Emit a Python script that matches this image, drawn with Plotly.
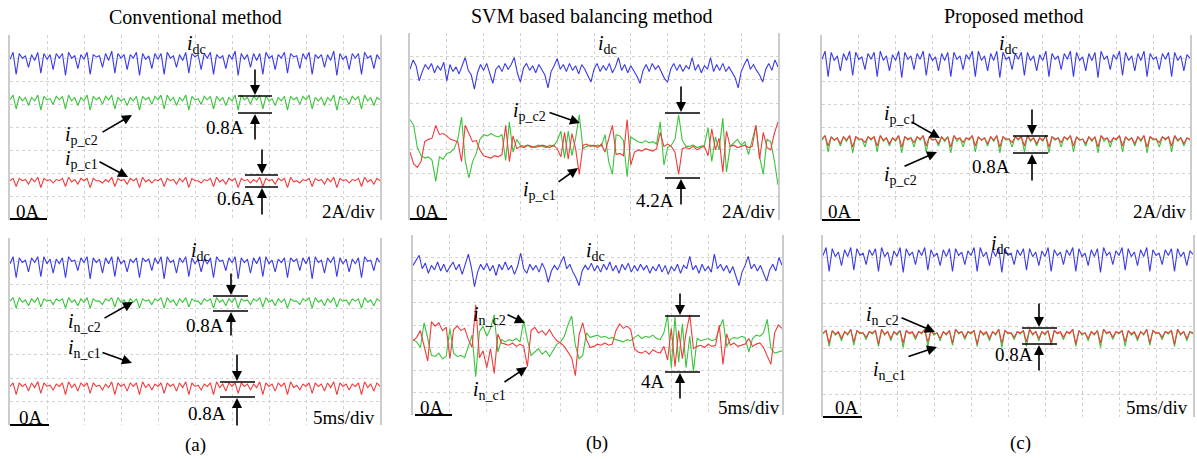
import numpy as np
import plotly.graph_objects as go

W, H = 1197, 459

# ---------------- data (A), time axis 0..50 ms (5 ms/div), 0..16 A (2 A/div) ----------------
t_ripple = np.linspace(0, 50, 121)
t_svm = np.linspace(0, 50, 101)

idc_a_top = [
 13.9, 14.5, 12.6, 14.4, 14.0, 14.2, 13.2, 14.3,
 13.8, 14.5, 12.7, 14.4, 13.9, 14.3, 13.0, 14.4,
 14.0, 14.4, 12.5, 14.5, 14.0, 14.2, 13.1, 14.3,
 13.9, 14.5, 12.6, 14.3, 14.1, 14.2, 13.2, 14.4,
 13.8, 14.6, 12.7, 14.4, 14.0, 14.3, 13.0, 14.3,
 14.0, 14.5, 12.5, 14.4, 13.9, 14.2, 13.1, 14.4,
 13.9, 14.4, 12.6, 14.5, 14.0, 14.2, 13.2, 14.3,
 13.8, 14.5, 12.7, 14.4, 14.1, 14.3, 13.0, 14.4,
 14.0, 14.5, 12.6, 14.3, 14.0, 14.2, 13.1, 14.3,
 13.9, 14.6, 12.5, 14.4, 13.9, 14.3, 13.2, 14.4,
 13.8, 14.4, 12.6, 14.5, 14.0, 14.2, 13.0, 14.3,
 14.0, 14.5, 12.7, 14.4, 14.1, 14.2, 13.1, 14.4,
 13.9, 14.5, 12.6, 14.3, 14.0, 14.3, 13.2, 14.3,
 13.8, 14.6, 12.5, 14.4, 13.9, 14.2, 13.0, 14.4,
 14.0, 14.4, 12.6, 14.5, 14.0, 14.2, 13.1, 14.3,
 13.9]
ipc2_a = [
 10.4, 10.8, 9.6, 10.7, 10.3, 10.6, 9.9, 10.6,
 10.3, 10.8, 9.5, 10.7, 10.4, 10.5, 10.0, 10.7,
 10.4, 10.7, 9.6, 10.8, 10.3, 10.6, 9.9, 10.6,
 10.3, 10.8, 9.5, 10.7, 10.4, 10.6, 10.0, 10.7,
 10.4, 10.8, 9.6, 10.6, 10.3, 10.5, 9.9, 10.6,
 10.3, 10.7, 9.5, 10.7, 10.4, 10.6, 10.0, 10.7,
 10.4, 10.8, 9.6, 10.8, 10.3, 10.6, 9.9, 10.6,
 10.3, 10.8, 9.5, 10.7, 10.4, 10.5, 10.0, 10.7,
 10.4, 10.7, 9.6, 10.7, 10.3, 10.6, 9.9, 10.6,
 10.3, 10.8, 9.5, 10.8, 10.4, 10.6, 10.0, 10.7,
 10.4, 10.8, 9.6, 10.7, 10.3, 10.5, 9.9, 10.6,
 10.3, 10.7, 9.5, 10.7, 10.4, 10.6, 10.0, 10.7,
 10.4, 10.8, 9.6, 10.6, 10.3, 10.6, 9.9, 10.6,
 10.3, 10.8, 9.5, 10.7, 10.4, 10.5, 10.0, 10.7,
 10.4, 10.7, 9.6, 10.8, 10.3, 10.6, 9.9, 10.6,
 10.4]
ipc1_a = [
 3.4, 3.6, 2.9, 3.6, 3.4, 3.5, 3.1, 3.6,
 3.3, 3.7, 2.8, 3.6, 3.4, 3.5, 3.2, 3.5,
 3.4, 3.6, 2.9, 3.7, 3.3, 3.5, 3.1, 3.6,
 3.4, 3.6, 2.8, 3.6, 3.4, 3.4, 3.2, 3.5,
 3.3, 3.7, 2.9, 3.6, 3.4, 3.5, 3.1, 3.6,
 3.4, 3.6, 2.8, 3.7, 3.3, 3.5, 3.2, 3.5,
 3.4, 3.6, 2.9, 3.6, 3.4, 3.5, 3.1, 3.6,
 3.3, 3.7, 2.8, 3.6, 3.4, 3.4, 3.2, 3.5,
 3.4, 3.6, 2.9, 3.7, 3.3, 3.5, 3.1, 3.6,
 3.4, 3.6, 2.8, 3.6, 3.4, 3.5, 3.2, 3.5,
 3.3, 3.7, 2.9, 3.6, 3.4, 3.5, 3.1, 3.6,
 3.4, 3.6, 2.8, 3.7, 3.3, 3.4, 3.2, 3.5,
 3.4, 3.6, 2.9, 3.6, 3.4, 3.5, 3.1, 3.6,
 3.3, 3.7, 2.8, 3.6, 3.4, 3.5, 3.2, 3.5,
 3.4, 3.6, 2.9, 3.7, 3.3, 3.5, 3.1, 3.6,
 3.4]
idc_a_bot = [
 13.8, 14.4, 12.6, 14.3, 13.9, 14.1, 13.1, 14.3,
 13.9, 14.4, 12.7, 14.4, 13.8, 14.2, 13.0, 14.2,
 13.8, 14.3, 12.6, 14.4, 14.0, 14.1, 13.2, 14.3,
 13.9, 14.4, 12.5, 14.3, 13.9, 14.2, 13.0, 14.3,
 13.8, 14.4, 12.7, 14.4, 13.8, 14.1, 13.1, 14.2,
 13.9, 14.3, 12.6, 14.3, 14.0, 14.2, 13.2, 14.3,
 13.8, 14.4, 12.5, 14.4, 13.9, 14.1, 13.0, 14.3,
 13.9, 14.4, 12.7, 14.3, 13.8, 14.2, 13.1, 14.2,
 13.8, 14.3, 12.6, 14.4, 14.0, 14.1, 13.2, 14.3,
 13.9, 14.4, 12.5, 14.3, 13.9, 14.2, 13.0, 14.3,
 13.8, 14.4, 12.7, 14.4, 13.8, 14.1, 13.1, 14.2,
 13.9, 14.3, 12.6, 14.3, 14.0, 14.2, 13.2, 14.3,
 13.8, 14.4, 12.5, 14.4, 13.9, 14.1, 13.0, 14.3,
 13.9, 14.4, 12.7, 14.3, 13.8, 14.2, 13.1, 14.2,
 13.8, 14.3, 12.6, 14.4, 14.0, 14.1, 13.2, 14.3,
 13.9]
inc2_a = [
 10.6, 10.9, 10.0, 10.9, 10.5, 10.7, 10.2, 10.8,
 10.5, 10.9, 10.1, 10.8, 10.6, 10.7, 10.3, 10.8,
 10.6, 10.8, 10.0, 10.9, 10.5, 10.7, 10.2, 10.8,
 10.5, 10.9, 10.0, 10.8, 10.6, 10.6, 10.3, 10.8,
 10.6, 10.9, 10.1, 10.9, 10.5, 10.7, 10.2, 10.8,
 10.5, 10.8, 10.0, 10.8, 10.6, 10.7, 10.3, 10.8,
 10.6, 10.9, 10.0, 10.9, 10.5, 10.7, 10.2, 10.8,
 10.5, 10.9, 10.1, 10.8, 10.6, 10.6, 10.3, 10.8,
 10.6, 10.8, 10.0, 10.9, 10.5, 10.7, 10.2, 10.8,
 10.5, 10.9, 10.0, 10.8, 10.6, 10.7, 10.3, 10.8,
 10.6, 10.9, 10.1, 10.9, 10.5, 10.7, 10.2, 10.8,
 10.5, 10.8, 10.0, 10.8, 10.6, 10.6, 10.3, 10.8,
 10.6, 10.9, 10.0, 10.9, 10.5, 10.7, 10.2, 10.8,
 10.5, 10.9, 10.1, 10.8, 10.6, 10.7, 10.3, 10.8,
 10.6, 10.8, 10.0, 10.9, 10.5, 10.7, 10.2, 10.8,
 10.6]
inc1_a = [
 3.3, 3.6, 2.6, 3.6, 3.3, 3.5, 2.9, 3.6,
 3.2, 3.7, 2.7, 3.6, 3.3, 3.4, 3.0, 3.5,
 3.3, 3.6, 2.6, 3.7, 3.2, 3.5, 2.9, 3.6,
 3.3, 3.6, 2.7, 3.6, 3.3, 3.4, 3.0, 3.5,
 3.2, 3.7, 2.6, 3.6, 3.3, 3.5, 2.9, 3.6,
 3.3, 3.6, 2.6, 3.7, 3.2, 3.5, 3.0, 3.5,
 3.3, 3.6, 2.7, 3.6, 3.3, 3.5, 2.9, 3.6,
 3.2, 3.7, 2.6, 3.6, 3.3, 3.4, 3.0, 3.5,
 3.3, 3.6, 2.6, 3.7, 3.2, 3.5, 2.9, 3.6,
 3.3, 3.6, 2.7, 3.6, 3.3, 3.5, 3.0, 3.5,
 3.2, 3.7, 2.6, 3.6, 3.3, 3.5, 2.9, 3.6,
 3.3, 3.6, 2.6, 3.7, 3.2, 3.4, 3.0, 3.5,
 3.3, 3.6, 2.7, 3.6, 3.3, 3.5, 2.9, 3.6,
 3.2, 3.7, 2.6, 3.6, 3.3, 3.5, 3.0, 3.5,
 3.3, 3.6, 2.6, 3.7, 3.2, 3.5, 2.9, 3.6,
 3.3]

idc_b_top = [
 12.9, 13.7, 13.2, 11.9, 12.7, 13.3, 12.9, 13.4, 12.6, 13.2,
 12.8, 13.5, 11.9, 13.3, 12.7, 13.1, 12.5, 13.2, 13.9, 12.8,
 12.4, 11.2, 12.6, 13.3, 12.8, 13.4, 12.5, 11.7, 12.9, 13.2,
 12.7, 13.4, 12.9, 13.3, 13.9, 12.6, 11.8, 13.0, 13.4, 12.8,
 13.2, 12.6, 13.3, 12.9, 12.4, 11.3, 12.7, 13.2, 13.8, 12.9,
 13.3, 12.7, 13.4, 12.8, 13.2, 12.5, 13.3, 12.9, 12.4, 11.8,
 12.9, 13.4, 12.7, 13.2, 12.8, 13.4, 12.6, 13.1, 13.9, 12.8,
 13.3, 12.6, 13.2, 12.8, 12.3, 11.7, 12.8, 13.3, 12.7, 13.4,
 12.9, 13.2, 12.6, 12.1, 11.8, 12.9, 13.4, 12.8, 13.3, 12.7,
 13.2, 12.9, 13.9, 12.8, 13.3, 12.6, 13.2, 12.9, 13.9, 12.7,
 13.3, 12.8, 13.4, 12.7, 13.1, 12.6, 12.2, 11.3, 12.7, 13.3,
 13.8, 12.9, 13.3, 12.8, 12.4, 11.8, 12.9, 13.4, 12.8, 13.7,
 13.1]
ipc2_b = [
 8.6, 8.1, 6.2, 5.5, 5.3, 5.4, 5.1, 3.3, 5.4, 5.2,
 5.7, 5.8, 6.1, 6.9, 8.8, 5.1, 3.6, 5.0, 5.7, 6.9,
 7.3, 7.2, 7.4, 7.2, 7.1, 7.3, 5.1, 8.4, 5.8, 6.9,
 6.4, 6.3, 6.4, 6.2, 6.3, 6.4, 6.3, 6.2, 6.4, 6.3,
 6.8, 7.6, 5.3, 7.6, 5.5, 7.0, 9.0, 6.1, 6.3, 6.4,
 6.3, 6.4, 6.3, 7.3, 5.0, 3.9, 7.3, 7.2, 6.8, 3.7,
 7.1, 6.9, 6.7, 6.6, 6.8, 6.6, 6.7, 6.5, 8.4, 4.7,
 6.2, 6.4, 6.9, 9.0, 6.8, 6.3, 6.3, 6.4, 6.2, 6.3,
 6.4, 7.9, 5.0, 7.1, 6.0, 8.7, 4.1, 6.3, 6.6, 6.9,
 6.4, 6.7, 5.6, 6.8, 8.1, 5.4, 3.9, 6.9, 6.7, 5.1,
 3.0]
ipc1_b = [
 5.8, 4.8, 4.5, 5.0, 6.7, 6.9, 7.0, 8.1, 7.3, 7.4,
 7.2, 6.9, 6.8, 6.7, 5.0, 8.1, 7.4, 6.7, 6.8, 6.0,
 5.5, 5.4, 5.3, 5.5, 5.4, 5.6, 8.1, 5.0, 7.2, 6.1,
 6.3, 6.2, 6.4, 6.3, 6.2, 6.3, 6.4, 6.3, 6.2, 6.4,
 6.1, 5.4, 7.5, 5.2, 7.4, 6.1, 3.9, 6.4, 6.5, 6.3,
 6.4, 6.2, 6.5, 5.8, 7.0, 8.1, 5.6, 5.7, 5.5, 8.6,
 4.7, 5.8, 6.0, 5.9, 6.1, 6.0, 5.9, 6.1, 7.5, 6.3,
 6.5, 6.3, 5.8, 3.9, 6.1, 6.2, 6.1, 6.3, 6.0, 6.2,
 6.3, 5.5, 7.8, 6.0, 7.0, 4.1, 7.6, 6.3, 6.4, 6.2,
 6.3, 6.4, 6.2, 6.3, 8.1, 5.2, 7.5, 6.2, 6.0, 7.4,
 8.4]
idc_b_bot = [
 13.3, 13.8, 14.2, 13.0, 13.5, 12.6, 13.3, 12.9, 13.6, 12.8,
 13.4, 12.7, 13.2, 13.6, 12.9, 13.4, 12.5, 13.3, 14.3, 13.1,
 11.4, 12.7, 13.4, 12.9, 13.5, 12.8, 13.3, 12.4, 13.4, 12.9,
 13.6, 12.9, 13.3, 12.5, 13.2, 14.4, 13.0, 12.6, 13.4, 12.9,
 13.3, 12.7, 13.5, 12.9, 11.8, 12.8, 13.3, 12.9, 13.5, 14.1,
 13.0, 13.4, 12.7, 12.2, 11.5, 12.8, 13.3, 12.9, 13.5, 12.8,
 13.3, 12.7, 13.4, 12.9, 13.6, 12.8, 13.3, 12.6, 13.4, 12.9,
 13.5, 12.7, 13.3, 12.8, 13.4, 12.9, 13.3, 12.6, 13.2, 12.8,
 13.4, 12.7, 13.3, 12.5, 13.2, 12.8, 13.4, 12.6, 13.3, 13.0,
 14.1, 12.9, 13.3, 12.6, 13.4, 12.8, 13.2, 12.7, 14.3, 13.0,
 13.4, 12.8, 13.3, 12.6, 13.2, 12.4, 11.5, 12.7, 13.3, 14.1,
 13.0, 13.4, 12.8, 13.3, 12.5, 11.9, 12.9, 13.4, 12.8, 14.0,
 13.3]
inc2_b = [
 6.7, 6.5, 6.0, 8.2, 6.8, 5.3, 5.2, 5.5, 5.0, 5.2,
 7.7, 5.5, 5.2, 5.3, 5.1, 6.1, 7.1, 3.4, 7.4, 7.9,
 7.0, 7.7, 8.9, 5.6, 6.7, 6.5, 6.7, 6.6, 6.8, 6.5,
 8.4, 6.7, 5.3, 5.6, 5.9, 5.4, 5.7, 5.2, 5.8, 6.3,
 6.5, 7.0, 8.0, 8.8, 6.2, 5.0, 5.3, 7.3, 6.9, 7.0,
 7.1, 6.9, 7.0, 6.8, 6.9, 6.7, 6.6, 6.5, 6.7, 6.6,
 6.9, 7.1, 6.8, 7.0, 6.9, 7.1, 6.8, 6.7, 7.3, 8.9,
 4.2, 8.7, 4.7, 8.1, 4.2, 7.0, 3.9, 6.8, 6.6, 6.7,
 6.8, 6.6, 6.7, 7.7, 8.5, 6.1, 6.7, 6.9, 6.8, 7.0,
 6.9, 5.6, 6.8, 7.1, 7.0, 7.3, 8.5, 5.9, 5.5, 5.6,
 5.7]
inc1_b = [
 6.6, 6.9, 7.5, 6.1, 4.8, 8.3, 7.9, 8.2, 7.5, 7.8,
 5.0, 7.6, 7.9, 7.5, 7.7, 6.7, 6.0, 9.8, 5.1, 5.7,
 4.2, 5.9, 3.7, 7.2, 6.4, 6.3, 6.2, 6.4, 6.1, 6.3,
 6.1, 4.3, 7.5, 7.8, 7.3, 7.5, 7.1, 7.6, 7.0, 6.6,
 6.4, 6.1, 5.6, 5.1, 3.5, 7.1, 8.2, 6.7, 6.0, 6.1,
 6.3, 6.2, 6.4, 6.2, 6.3, 7.5, 8.1, 7.7, 7.9, 7.6,
 5.9, 5.6, 5.5, 5.7, 5.4, 5.8, 5.6, 5.5, 6.1, 4.9,
 7.7, 4.3, 7.5, 5.0, 7.3, 8.9, 5.9, 6.1, 6.2, 6.0,
 6.3, 6.1, 6.2, 8.0, 4.5, 7.2, 6.2, 6.4, 6.1, 6.2,
 6.3, 6.8, 6.1, 6.3, 6.4, 6.0, 5.3, 4.5, 7.3, 8.0,
 7.7]

idc_c_top = [
 13.9, 14.6, 12.4, 14.5, 13.8, 14.2, 12.9, 14.4,
 13.8, 14.6, 12.5, 14.5, 13.9, 14.1, 13.0, 14.4,
 13.9, 14.5, 12.4, 14.6, 13.8, 14.2, 12.9, 14.3,
 13.8, 14.6, 12.3, 14.5, 13.9, 14.2, 13.0, 14.4,
 13.9, 14.6, 12.5, 14.4, 13.8, 14.1, 12.9, 14.4,
 13.8, 14.5, 12.4, 14.5, 13.9, 14.2, 13.0, 14.3,
 13.9, 14.6, 12.4, 14.6, 13.8, 14.2, 12.9, 14.4,
 13.8, 14.6, 12.3, 14.5, 13.9, 14.1, 13.0, 14.4,
 13.9, 14.5, 12.5, 14.5, 13.8, 14.2, 12.9, 14.3,
 13.8, 14.6, 12.4, 14.4, 13.9, 14.2, 13.0, 14.4,
 13.9, 14.6, 12.4, 14.5, 13.8, 14.1, 12.9, 14.4,
 13.8, 14.5, 12.3, 14.6, 13.9, 14.2, 13.0, 14.3,
 13.9, 14.6, 12.5, 14.5, 13.8, 14.2, 12.9, 14.4,
 13.8, 14.6, 12.4, 14.4, 13.9, 14.1, 13.0, 14.4,
 13.9, 14.5, 12.4, 14.5, 13.8, 14.2, 12.9, 14.3,
 14.0]
ipc2_c = [
 6.9, 7.3, 5.9, 7.2, 6.9, 7.1, 6.4, 7.2,
 6.8, 7.3, 5.8, 7.2, 6.9, 7.0, 6.3, 7.2,
 6.9, 7.2, 5.9, 7.3, 6.8, 7.1, 6.4, 7.1,
 6.8, 7.3, 5.8, 7.2, 6.9, 7.1, 6.3, 7.2,
 6.9, 7.3, 5.9, 7.2, 6.9, 7.0, 6.4, 7.2,
 6.8, 7.2, 5.8, 7.3, 6.8, 7.1, 6.3, 7.1,
 6.9, 7.3, 5.9, 7.2, 6.9, 7.1, 6.4, 7.2,
 6.8, 7.3, 5.8, 7.2, 6.9, 7.0, 6.3, 7.2,
 6.9, 7.2, 5.9, 7.3, 6.8, 7.1, 6.4, 7.1,
 6.8, 7.3, 5.8, 7.2, 6.9, 7.1, 6.3, 7.2,
 6.9, 7.3, 5.9, 7.2, 6.9, 7.0, 6.4, 7.2,
 6.8, 7.2, 5.8, 7.3, 6.8, 7.1, 6.3, 7.1,
 6.9, 7.3, 5.9, 7.2, 6.9, 7.1, 6.4, 7.2,
 6.8, 7.3, 5.8, 7.2, 6.9, 7.0, 6.3, 7.2,
 6.9, 7.2, 5.9, 7.3, 6.8, 7.1, 6.4, 7.1,
 6.9]
ipc1_c = [
 7.0, 7.3, 6.4, 7.2, 6.9, 7.1, 6.6, 7.2,
 6.9, 7.3, 6.3, 7.2, 7.0, 7.0, 6.7, 7.2,
 7.0, 7.2, 6.4, 7.3, 6.9, 7.1, 6.6, 7.1,
 6.9, 7.3, 6.3, 7.2, 7.0, 7.1, 6.7, 7.2,
 7.0, 7.3, 6.4, 7.2, 6.9, 7.0, 6.6, 7.2,
 6.9, 7.2, 6.3, 7.3, 7.0, 7.1, 6.7, 7.1,
 7.0, 7.3, 6.4, 7.2, 6.9, 7.1, 6.6, 7.2,
 6.9, 7.3, 6.3, 7.2, 7.0, 7.0, 6.7, 7.2,
 7.0, 7.2, 6.4, 7.3, 6.9, 7.1, 6.6, 7.1,
 6.9, 7.3, 6.3, 7.2, 7.0, 7.1, 6.7, 7.2,
 7.0, 7.3, 6.4, 7.2, 6.9, 7.0, 6.6, 7.2,
 6.9, 7.2, 6.3, 7.3, 7.0, 7.1, 6.7, 7.1,
 7.0, 7.3, 6.4, 7.2, 6.9, 7.1, 6.6, 7.2,
 6.9, 7.3, 6.3, 7.2, 7.0, 7.0, 6.7, 7.2,
 7.0, 7.2, 6.4, 7.3, 6.9, 7.1, 6.6, 7.1,
 7.0]
idc_c_bot = [
 14.2, 14.9, 12.8, 14.8, 14.1, 14.5, 13.3, 14.7,
 14.1, 14.9, 12.9, 14.8, 14.2, 14.4, 13.4, 14.7,
 14.2, 14.8, 12.8, 14.9, 14.1, 14.5, 13.3, 14.6,
 14.1, 14.9, 12.7, 14.8, 14.2, 14.5, 13.4, 14.7,
 14.2, 14.9, 12.9, 14.7, 14.1, 14.4, 13.3, 14.7,
 14.1, 14.8, 12.8, 14.8, 14.2, 14.5, 13.4, 14.6,
 14.2, 14.9, 12.8, 14.9, 14.1, 14.5, 13.3, 14.7,
 14.1, 14.9, 12.7, 14.8, 14.2, 14.4, 13.4, 14.7,
 14.2, 14.8, 12.9, 14.8, 14.1, 14.5, 13.3, 14.6,
 14.1, 14.9, 12.8, 14.7, 14.2, 14.5, 13.4, 14.7,
 14.2, 14.9, 12.8, 14.8, 14.1, 14.4, 13.3, 14.7,
 14.1, 14.8, 12.7, 14.9, 14.2, 14.5, 13.4, 14.6,
 14.2, 14.9, 12.9, 14.8, 14.1, 14.5, 13.3, 14.7,
 14.1, 14.9, 12.8, 14.7, 14.2, 14.4, 13.4, 14.7,
 14.2, 14.8, 12.8, 14.8, 14.1, 14.5, 13.3, 14.6,
 14.3]
inc2_c = [
 7.3, 7.6, 6.2, 7.6, 7.2, 7.4, 6.7, 7.5,
 7.2, 7.7, 6.3, 7.6, 7.3, 7.4, 6.8, 7.5,
 7.3, 7.6, 6.2, 7.7, 7.2, 7.5, 6.7, 7.5,
 7.2, 7.6, 6.1, 7.6, 7.3, 7.4, 6.8, 7.5,
 7.3, 7.7, 6.2, 7.6, 7.2, 7.4, 6.7, 7.5,
 7.2, 7.6, 6.3, 7.7, 7.3, 7.5, 6.8, 7.5,
 7.3, 7.6, 6.2, 7.6, 7.2, 7.4, 6.7, 7.5,
 7.2, 7.7, 6.1, 7.6, 7.3, 7.4, 6.8, 7.5,
 7.3, 7.6, 6.2, 7.7, 7.2, 7.5, 6.7, 7.5,
 7.2, 7.6, 6.3, 7.6, 7.3, 7.4, 6.8, 7.5,
 7.3, 7.7, 6.2, 7.6, 7.2, 7.4, 6.7, 7.5,
 7.2, 7.6, 6.1, 7.7, 7.3, 7.5, 6.8, 7.5,
 7.3, 7.6, 6.2, 7.6, 7.2, 7.4, 6.7, 7.5,
 7.2, 7.7, 6.3, 7.6, 7.3, 7.4, 6.8, 7.5,
 7.3, 7.6, 6.2, 7.7, 7.2, 7.5, 6.7, 7.5,
 7.3]
inc1_c = [
 7.4, 7.6, 6.5, 7.6, 7.3, 7.5, 6.9, 7.5,
 7.3, 7.7, 6.6, 7.6, 7.4, 7.4, 7.0, 7.5,
 7.4, 7.6, 6.4, 7.7, 7.3, 7.5, 6.9, 7.5,
 7.3, 7.6, 6.5, 7.6, 7.4, 7.5, 7.0, 7.5,
 7.4, 7.7, 6.6, 7.6, 7.3, 7.4, 6.9, 7.5,
 7.3, 7.6, 6.5, 7.7, 7.4, 7.5, 7.0, 7.5,
 7.4, 7.6, 6.4, 7.6, 7.3, 7.5, 6.9, 7.5,
 7.3, 7.7, 6.5, 7.6, 7.4, 7.4, 7.0, 7.5,
 7.4, 7.6, 6.6, 7.7, 7.3, 7.5, 6.9, 7.5,
 7.3, 7.6, 6.5, 7.6, 7.4, 7.5, 7.0, 7.5,
 7.4, 7.7, 6.4, 7.6, 7.3, 7.4, 6.9, 7.5,
 7.3, 7.6, 6.5, 7.7, 7.4, 7.5, 7.0, 7.5,
 7.4, 7.6, 6.6, 7.6, 7.3, 7.5, 6.9, 7.5,
 7.3, 7.7, 6.5, 7.6, 7.4, 7.4, 7.0, 7.5,
 7.4, 7.6, 6.4, 7.7, 7.3, 7.5, 6.9, 7.5,
 7.4]

titles = ["Conventional method", "SVM based balancing method", "Proposed method"]
sub_labels = ["(a)", "(b)", "(c)"]

# ---------------- styling / layout ----------------
BLUE, GREEN, RED = "#3a3ae6", "#3cc43c", "#f03c3c"
FONT = "Liberation Serif"
GRID = "#d2d2d2"

# panel boxes in pixels: x0, x1, y0(top), y1(bottom)
boxes = [
    (10, 380, 35, 220), (410, 778, 33, 220), (822, 1190, 35, 220),
    (10, 380, 238, 425), (413, 782, 235, 415), (823, 1193, 235, 417),
]

panel_traces = [
    [(t_ripple, idc_a_top, BLUE), (t_ripple, ipc2_a, GREEN), (t_ripple, ipc1_a, RED)],
    [(t_ripple, idc_b_top, BLUE), (t_svm, ipc2_b, GREEN), (t_svm, ipc1_b, RED)],
    [(t_ripple, idc_c_top, BLUE), (t_ripple, ipc2_c, GREEN), (t_ripple, ipc1_c, RED)],
    [(t_ripple, idc_a_bot, BLUE), (t_ripple, inc2_a, GREEN), (t_ripple, inc1_a, RED)],
    [(t_ripple, idc_b_bot, BLUE), (t_svm, inc2_b, GREEN), (t_svm, inc1_b, RED)],
    [(t_ripple, idc_c_bot, BLUE), (t_ripple, inc2_c, GREEN), (t_ripple, inc1_c, RED)],
]

fig = go.Figure()
layout = dict(width=W, height=H, margin=dict(l=0, r=0, t=0, b=0),
              paper_bgcolor="white", plot_bgcolor="white", showlegend=False,
              font=dict(family=FONT, color="black"))

for i, (box, trs) in enumerate(zip(boxes, panel_traces)):
    n = "" if i == 0 else str(i + 1)
    x0, x1, y0, y1 = box
    layout["xaxis" + n] = dict(domain=[x0 / W, x1 / W], range=[0, 50], tick0=0, dtick=5,
                               showgrid=True, gridcolor=GRID, griddash="dot", gridwidth=1,
                               zeroline=False, showticklabels=False, ticks="", showline=False,
                               anchor="y" + n, fixedrange=True)
    layout["yaxis" + n] = dict(domain=[1 - y1 / H, 1 - y0 / H], range=[0, 16], tick0=0, dtick=2,
                               showgrid=True, gridcolor=GRID, griddash="dot", gridwidth=1,
                               zeroline=False, showticklabels=False, ticks="",
                               showline=True, mirror=True, linecolor="#cccccc", linewidth=1.5,
                               anchor="x" + n, fixedrange=True)
    for tx, ty, col in trs:
        fig.add_trace(go.Scatter(x=tx, y=ty, mode="lines", line=dict(color=col, width=1.1),
                                 xaxis="x" + n, yaxis="y" + n, hoverinfo="skip"))

ann = []
shapes = []


def P(px, py):
    return px / W, 1 - py / H


def text(px, py, s, size=19, xanchor="center"):
    x, y = P(px, py)
    ann.append(dict(x=x, y=y, xref="paper", yref="paper", text=s, showarrow=False,
                    xanchor=xanchor, yanchor="middle", font=dict(size=size, family=FONT, color="black")))


def arrow(head, tail):
    x, y = P(*head)
    ann.append(dict(x=x, y=y, xref="paper", yref="paper", text="", showarrow=True,
                    ax=tail[0] - head[0], ay=tail[1] - head[1],
                    arrowhead=2, arrowsize=1.25, arrowwidth=1.6, arrowcolor="black", standoff=0))


def hline(px0, px1, py, w=1.6):
    xa, ya = P(px0, py)
    xb, _ = P(px1, py)
    shapes.append(dict(type="line", xref="paper", yref="paper", x0=xa, x1=xb, y0=ya, y1=ya,
                       line=dict(color="black", width=w)))


def measure(xl, xr, ytop, ybot, xa, ytail_top, ytail_bot, label, lx, ly):
    hline(xl, xr, ytop)
    hline(xl, xr, ybot)
    arrow((xa, ytop - 1), (xa, ytail_top))
    arrow((xa, ybot + 1), (xa, ytail_bot))
    text(lx, ly, label, 19, "right")


def idc(px, py):
    text(px, py, "<i>i</i><sub>dc</sub>", 20)


def cur(px, py, sub):
    text(px, py, "<i>i</i><sub>" + sub + "</sub>", 20, "left")


def zero(px_text, py, xl, xr, yl):
    text(px_text, py, "0A", 19)
    hline(xl, xr, yl, 2)


# titles
text(195, 17, titles[0], 20)
text(592, 17, titles[1], 20)
text(1013, 17, titles[2], 20)
text(195, 445, sub_labels[0], 19)
text(597, 443, sub_labels[1], 19)
text(1020, 443, sub_labels[2], 19)

# ---- (a) top
idc(196, 45)
cur(63, 135, "p_c2"); arrow((132, 115), (101, 133))
cur(63, 159, "p_c1"); arrow((128, 177), (98, 161))
measure(238, 272, 96, 113, 255, 68, 141, "0.8A", 246, 127)
measure(245, 278, 175, 187, 262, 148, 216, "0.6A", 257, 198)
zero(28, 211, 10, 47, 219)
text(377, 211, "2A/div", 19, "right")

# ---- (a) bottom
idc(200, 251)
cur(66, 322, "n_c2"); arrow((133, 302), (103, 319))
cur(66, 348, "n_c1"); arrow((132, 363), (101, 352))
measure(213, 248, 296, 311, 231, 272, 337, "0.8A", 226, 325)
measure(220, 255, 382, 397, 237, 353, 427, "0.8A", 228, 413)
zero(31, 417, 10, 49, 425)
text(377, 417, "5ms/div", 19, "right")

# ---- (b) top
idc(607, 45)
cur(511, 112, "p_c2"); arrow((580, 123), (548, 112))
cur(521, 190, "p_c1"); arrow((578, 168), (557, 183))
measure(665, 700, 113, 178, 681, 85, 206, "4.2A", 676, 200)
zero(428, 211, 410, 447, 219)
text(777, 211, "2A/div", 19, "right")

# ---- (b) bottom
idc(595, 251)
cur(471, 315, "n_c2"); arrow((525, 323), (506, 314))
cur(471, 390, "n_c1"); arrow((527, 367), (503, 383))
measure(665, 700, 316, 372, 680, 292, 400, "4A", 667, 381)
zero(432, 407, 415, 452, 415)
text(782, 407, "5ms/div", 19, "right")

# ---- (c) top
idc(1008, 45)
cur(882, 115, "p_c1"); arrow((940, 138), (910, 121))
cur(882, 175, "p_c2"); arrow((937, 152), (903, 167))
measure(1013, 1048, 136, 153, 1032, 108, 182, "0.8A", 1012, 166)
zero(840, 211, 822, 860, 220)
text(1188, 211, "2A/div", 19, "right")

# ---- (c) bottom
idc(1000, 245)
cur(864, 315, "n_c2"); arrow((935, 332), (900, 317))
cur(871, 370, "n_c1"); arrow((937, 347), (907, 357))
measure(1022, 1057, 328, 344, 1039, 302, 372, "0.8A", 1035, 354)
zero(847, 407, 823, 862, 417)
text(1190, 407, "5ms/div", 19, "right")

layout["annotations"] = ann
layout["shapes"] = shapes
fig.update_layout(**layout)
fig.write_html("out.html")
